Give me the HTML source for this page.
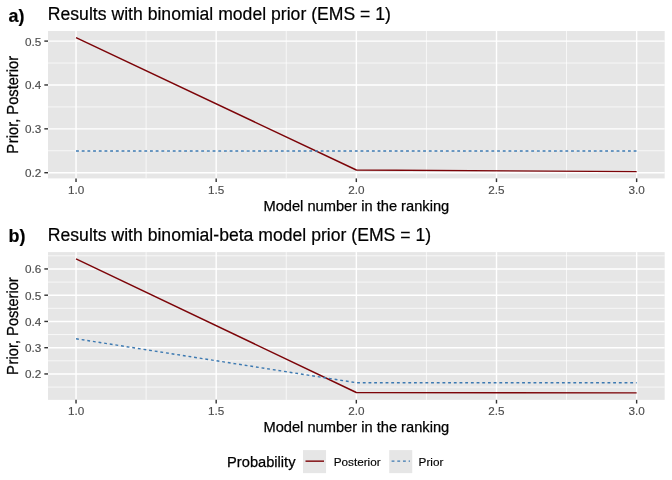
<!DOCTYPE html><html><head><meta charset="utf-8"><title>Results</title>
<style>html,body{margin:0;padding:0;background:#fff}svg{display:block;will-change:transform;opacity:0.9999}text{font-family:"Liberation Sans",Arial,Helvetica,sans-serif}.rot{text-rendering:geometricPrecision}.tk{font-size:11.73px;fill:#4d4d4d;stroke:#4d4d4d;stroke-width:.15px}.at{font-size:14.67px;fill:#000;stroke:#000;stroke-width:.25px}.ti{font-size:17.6px;letter-spacing:.01px;fill:#000;stroke:#000;stroke-width:.2px}.tg{font-size:17.9px;font-weight:bold;fill:#000;stroke:#000;stroke-width:.2px}.ll{font-size:11.73px;fill:#000;stroke:#000;stroke-width:.15px}</style></head><body>
<svg width="672" height="480" viewBox="0 0 672 480">
<rect width="672" height="480" fill="#fff"/>
<rect x="48.0" y="31.0" width="616.67" height="147.40" fill="#e6e6e6"/>
<line x1="48.0" x2="664.67" y1="63.03" y2="63.03" stroke="#fff" stroke-width="0.71"/>
<line x1="48.0" x2="664.67" y1="106.91" y2="106.91" stroke="#fff" stroke-width="0.71"/>
<line x1="48.0" x2="664.67" y1="150.78" y2="150.78" stroke="#fff" stroke-width="0.71"/>
<line y1="31.0" y2="178.4" x1="146.11" x2="146.11" stroke="#fff" stroke-width="0.71"/>
<line y1="31.0" y2="178.4" x1="286.26" x2="286.26" stroke="#fff" stroke-width="0.71"/>
<line y1="31.0" y2="178.4" x1="426.41" x2="426.41" stroke="#fff" stroke-width="0.71"/>
<line y1="31.0" y2="178.4" x1="566.56" x2="566.56" stroke="#fff" stroke-width="0.71"/>
<line x1="48.0" x2="664.67" y1="41.10" y2="41.10" stroke="#fff" stroke-width="1.42"/>
<line x1="48.0" x2="664.67" y1="84.97" y2="84.97" stroke="#fff" stroke-width="1.42"/>
<line x1="48.0" x2="664.67" y1="128.84" y2="128.84" stroke="#fff" stroke-width="1.42"/>
<line x1="48.0" x2="664.67" y1="172.71" y2="172.71" stroke="#fff" stroke-width="1.42"/>
<line y1="31.0" y2="178.4" x1="76.03" x2="76.03" stroke="#fff" stroke-width="1.42"/>
<line y1="31.0" y2="178.4" x1="216.18" x2="216.18" stroke="#fff" stroke-width="1.42"/>
<line y1="31.0" y2="178.4" x1="356.33" x2="356.33" stroke="#fff" stroke-width="1.42"/>
<line y1="31.0" y2="178.4" x1="496.49" x2="496.49" stroke="#fff" stroke-width="1.42"/>
<line y1="31.0" y2="178.4" x1="636.64" x2="636.64" stroke="#fff" stroke-width="1.42"/>
<polyline points="76.03,37.60 356.33,170.00 636.64,171.60" fill="none" stroke="#7c0408" stroke-width="1.42" stroke-linejoin="round"/>
<polyline points="76.03,151.00 356.33,151.00 636.64,151.00" fill="none" stroke="#3c79b1" stroke-width="1.42" stroke-dasharray="2.845 2.845"/>
<line x1="44.33" x2="48.0" y1="41.10" y2="41.10" stroke="#333" stroke-width="1.42"/>
<text class="tk" x="41.40" y="45.60" text-anchor="end">0.5</text>
<line x1="44.33" x2="48.0" y1="84.97" y2="84.97" stroke="#333" stroke-width="1.42"/>
<text class="tk" x="41.40" y="89.47" text-anchor="end">0.4</text>
<line x1="44.33" x2="48.0" y1="128.84" y2="128.84" stroke="#333" stroke-width="1.42"/>
<text class="tk" x="41.40" y="133.34" text-anchor="end">0.3</text>
<line x1="44.33" x2="48.0" y1="172.71" y2="172.71" stroke="#333" stroke-width="1.42"/>
<text class="tk" x="41.40" y="177.21" text-anchor="end">0.2</text>
<line y1="178.4" y2="182.07" x1="76.03" x2="76.03" stroke="#333" stroke-width="1.42"/>
<text class="tk" x="76.03" y="194.10" text-anchor="middle">1.0</text>
<line y1="178.4" y2="182.07" x1="216.18" x2="216.18" stroke="#333" stroke-width="1.42"/>
<text class="tk" x="216.18" y="194.10" text-anchor="middle">1.5</text>
<line y1="178.4" y2="182.07" x1="356.33" x2="356.33" stroke="#333" stroke-width="1.42"/>
<text class="tk" x="356.33" y="194.10" text-anchor="middle">2.0</text>
<line y1="178.4" y2="182.07" x1="496.49" x2="496.49" stroke="#333" stroke-width="1.42"/>
<text class="tk" x="496.49" y="194.10" text-anchor="middle">2.5</text>
<line y1="178.4" y2="182.07" x1="636.64" x2="636.64" stroke="#333" stroke-width="1.42"/>
<text class="tk" x="636.64" y="194.10" text-anchor="middle">3.0</text>
<text class="at" x="356.33" y="211.10" text-anchor="middle">Model number in the ranking</text>
<text class="at rot" transform="translate(17.8,104.85) rotate(-90) scale(1,1.09)" dx="0 0.8" text-anchor="middle">Prior, Posterior</text>
<text class="ti" x="47.8" y="20.10">Results with binomial model prior (EMS = 1)</text>
<text class="tg" x="8.5" y="21.60">a)</text>
<rect x="48.0" y="252.1" width="616.67" height="147.75" fill="#e6e6e6"/>
<line x1="48.0" x2="664.67" y1="255.82" y2="255.82" stroke="#fff" stroke-width="0.71"/>
<line x1="48.0" x2="664.67" y1="282.07" y2="282.07" stroke="#fff" stroke-width="0.71"/>
<line x1="48.0" x2="664.67" y1="308.32" y2="308.32" stroke="#fff" stroke-width="0.71"/>
<line x1="48.0" x2="664.67" y1="334.57" y2="334.57" stroke="#fff" stroke-width="0.71"/>
<line x1="48.0" x2="664.67" y1="360.82" y2="360.82" stroke="#fff" stroke-width="0.71"/>
<line x1="48.0" x2="664.67" y1="387.07" y2="387.07" stroke="#fff" stroke-width="0.71"/>
<line y1="252.1" y2="399.85" x1="146.11" x2="146.11" stroke="#fff" stroke-width="0.71"/>
<line y1="252.1" y2="399.85" x1="286.26" x2="286.26" stroke="#fff" stroke-width="0.71"/>
<line y1="252.1" y2="399.85" x1="426.41" x2="426.41" stroke="#fff" stroke-width="0.71"/>
<line y1="252.1" y2="399.85" x1="566.56" x2="566.56" stroke="#fff" stroke-width="0.71"/>
<line x1="48.0" x2="664.67" y1="268.95" y2="268.95" stroke="#fff" stroke-width="1.42"/>
<line x1="48.0" x2="664.67" y1="295.20" y2="295.20" stroke="#fff" stroke-width="1.42"/>
<line x1="48.0" x2="664.67" y1="321.45" y2="321.45" stroke="#fff" stroke-width="1.42"/>
<line x1="48.0" x2="664.67" y1="347.70" y2="347.70" stroke="#fff" stroke-width="1.42"/>
<line x1="48.0" x2="664.67" y1="373.95" y2="373.95" stroke="#fff" stroke-width="1.42"/>
<line y1="252.1" y2="399.85" x1="76.03" x2="76.03" stroke="#fff" stroke-width="1.42"/>
<line y1="252.1" y2="399.85" x1="216.18" x2="216.18" stroke="#fff" stroke-width="1.42"/>
<line y1="252.1" y2="399.85" x1="356.33" x2="356.33" stroke="#fff" stroke-width="1.42"/>
<line y1="252.1" y2="399.85" x1="496.49" x2="496.49" stroke="#fff" stroke-width="1.42"/>
<line y1="252.1" y2="399.85" x1="636.64" x2="636.64" stroke="#fff" stroke-width="1.42"/>
<polyline points="76.03,258.80 356.33,392.50 636.64,392.90" fill="none" stroke="#7c0408" stroke-width="1.42" stroke-linejoin="round"/>
<polyline points="76.03,338.75 356.33,382.70 636.64,382.70" fill="none" stroke="#3c79b1" stroke-width="1.42" stroke-dasharray="2.845 2.845"/>
<line x1="44.33" x2="48.0" y1="268.95" y2="268.95" stroke="#333" stroke-width="1.42"/>
<text class="tk" x="41.40" y="273.45" text-anchor="end">0.6</text>
<line x1="44.33" x2="48.0" y1="295.20" y2="295.20" stroke="#333" stroke-width="1.42"/>
<text class="tk" x="41.40" y="299.70" text-anchor="end">0.5</text>
<line x1="44.33" x2="48.0" y1="321.45" y2="321.45" stroke="#333" stroke-width="1.42"/>
<text class="tk" x="41.40" y="325.95" text-anchor="end">0.4</text>
<line x1="44.33" x2="48.0" y1="347.70" y2="347.70" stroke="#333" stroke-width="1.42"/>
<text class="tk" x="41.40" y="352.20" text-anchor="end">0.3</text>
<line x1="44.33" x2="48.0" y1="373.95" y2="373.95" stroke="#333" stroke-width="1.42"/>
<text class="tk" x="41.40" y="378.45" text-anchor="end">0.2</text>
<line y1="399.85" y2="403.52" x1="76.03" x2="76.03" stroke="#333" stroke-width="1.42"/>
<text class="tk" x="76.03" y="415.30" text-anchor="middle">1.0</text>
<line y1="399.85" y2="403.52" x1="216.18" x2="216.18" stroke="#333" stroke-width="1.42"/>
<text class="tk" x="216.18" y="415.30" text-anchor="middle">1.5</text>
<line y1="399.85" y2="403.52" x1="356.33" x2="356.33" stroke="#333" stroke-width="1.42"/>
<text class="tk" x="356.33" y="415.30" text-anchor="middle">2.0</text>
<line y1="399.85" y2="403.52" x1="496.49" x2="496.49" stroke="#333" stroke-width="1.42"/>
<text class="tk" x="496.49" y="415.30" text-anchor="middle">2.5</text>
<line y1="399.85" y2="403.52" x1="636.64" x2="636.64" stroke="#333" stroke-width="1.42"/>
<text class="tk" x="636.64" y="415.30" text-anchor="middle">3.0</text>
<text class="at" x="356.33" y="432.40" text-anchor="middle">Model number in the ranking</text>
<text class="at rot" transform="translate(17.8,326.12) rotate(-90) scale(1,1.09)" dx="0 0.8" text-anchor="middle">Prior, Posterior</text>
<text class="ti" x="47.8" y="241.30">Results with binomial-beta model prior (EMS = 1)</text>
<text class="tg" x="8.5" y="242.10">b)</text>
<text class="at" x="227.1" y="466.55">Probability</text>
<rect x="303" y="450.1" width="23.04" height="23.04" fill="#e6e6e6"/>
<line x1="305.5" x2="324.0" y1="461.15" y2="461.15" stroke="#7c0408" stroke-width="1.42"/>
<text class="ll" x="333.7" y="465.95">Posterior</text>
<rect x="389.2" y="450.1" width="23.04" height="23.04" fill="#e6e6e6"/>
<line x1="391.6" x2="410.0" y1="461.15" y2="461.15" stroke="#3c79b1" stroke-width="1.42" stroke-dasharray="2.845 2.845"/>
<text class="ll" x="418.6" y="465.95">Prior</text>
</svg></body></html>
